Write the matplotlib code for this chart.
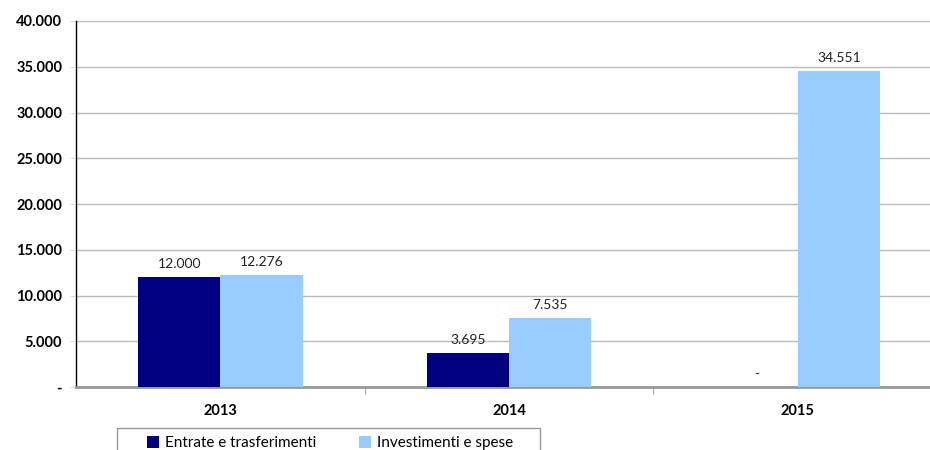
import matplotlib.pyplot as plt
from matplotlib.patches import Rectangle
import numpy as np

plt.rcParams['font.family'] = ['Lato', 'DejaVu Sans']

# dati
anni = ["2013", "2014", "2015"]
entrate = [12000, 3695, 0]
investimenti = [12276, 7535, 34551]
serie = ["Entrate e trasferimenti", "Investimenti e spese"]
colori = ["#000080", "#99CCFF"]


def fmt(v):
    if v == 0:
        return "-"
    return f"{v:,.0f}".replace(",", ".")


fig = plt.figure(figsize=(9.3, 4.5), dpi=100)
ax = fig.add_axes([76 / 930, 1 - 387 / 450, 1 - 76 / 930, (387 - 21) / 450])

x = np.arange(len(anni))
w = 0.285
b1 = ax.bar(x - w / 2, entrate, w, color=colori[0], label=serie[0], zorder=3)
b2 = ax.bar(x + w / 2, investimenti, w, color=colori[1], label=serie[1], zorder=3)

for bars, vals in [(b1, entrate), (b2, investimenti)]:
    for r, v in zip(bars, vals):
        ax.annotate(fmt(v), (r.get_x() + r.get_width() / 2, v),
                    xytext=(0, 5), textcoords="offset points",
                    ha="center", va="bottom", fontsize=10, color="#222222")

ax.set_ylim(0, 40000)
ax.set_xlim(-0.5, 2.5 - 12 / 289)
yt = np.arange(0, 40001, 5000)
ax.set_yticks(yt)
ax.set_yticklabels([fmt(v) for v in yt], fontweight="bold", fontsize=10.5)
ax.set_xticks(x)
ax.set_xticklabels(anni, fontweight="bold", fontsize=10.5)
ax.set_xticks([0.5, 1.5], minor=True)
ax.tick_params(axis="x", which="major", length=0, pad=12)
ax.tick_params(axis="x", which="minor", length=5, color="#aaaaaa", width=0.8)
ax.tick_params(axis="y", length=4, color="#dddddd", pad=6)
ax.yaxis.grid(True, color="#bbbbbb", linewidth=1, zorder=0)
ax.set_axisbelow(True)
for s in ["top", "right"]:
    ax.spines[s].set_visible(False)
ax.spines["left"].set_color("black")
ax.spines["left"].set_linewidth(1)
ax.spines["bottom"].set_color("#999999")
ax.spines["bottom"].set_linewidth(2)

# riquadro della legenda (tagliato in basso come nell'originale)
fig.patches.append(Rectangle((117 / 930, -0.05), 423 / 930, 0.05 + 1 - 428 / 450,
                             transform=fig.transFigure, fill=False,
                             edgecolor="#999999", linewidth=1))
leg = fig.legend(loc="center", bbox_to_anchor=(330 / 930, 1 - 443 / 450),
                 ncol=2, frameon=False, fontsize=11, handlelength=0.8,
                 handleheight=0.8, handletextpad=0.4, columnspacing=2.8,
                 borderpad=0, borderaxespad=0)

fig.savefig("out.png", dpi=100)
